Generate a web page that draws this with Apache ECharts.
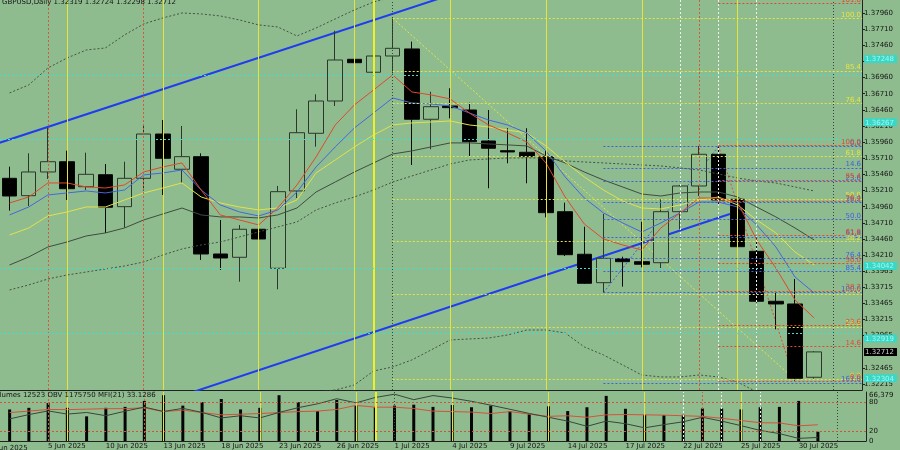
<!DOCTYPE html>
<html><head><meta charset="utf-8">
<script src="https://cdn.jsdelivr.net/npm/echarts@6/dist/echarts.min.js"></script>
<style>html,body{margin:0;padding:0;background:#8FBC8F;}#c{width:900px;height:450px;}</style>
</head><body><div id="c"></div>
<script>
const dates = ['3 Jun 2025','4 Jun 2025','5 Jun 2025','6 Jun 2025','9 Jun 2025','10 Jun 2025','11 Jun 2025','12 Jun 2025','13 Jun 2025','16 Jun 2025','17 Jun 2025','18 Jun 2025','19 Jun 2025','20 Jun 2025','23 Jun 2025','24 Jun 2025','25 Jun 2025','26 Jun 2025','27 Jun 2025','30 Jun 2025','1 Jul 2025','2 Jul 2025','3 Jul 2025','4 Jul 2025','7 Jul 2025','8 Jul 2025','9 Jul 2025','10 Jul 2025','11 Jul 2025','14 Jul 2025','15 Jul 2025','16 Jul 2025','17 Jul 2025','18 Jul 2025','21 Jul 2025','22 Jul 2025','23 Jul 2025','24 Jul 2025','25 Jul 2025','28 Jul 2025','29 Jul 2025','30 Jul 2025','31 Jul 2025'];
const open  = [1.35400,1.35131,1.35498,1.35657,1.35270,1.35456,1.34961,1.35400,1.36086,1.35540,1.35735,1.34228,1.34177,1.34611,1.34007,1.35204,1.36097,1.36597,1.37243,1.37042,1.37294,1.37403,1.36314,1.36520,1.36458,1.35978,1.35828,1.35803,1.35735,1.34883,1.34224,1.33784,1.34155,1.34109,1.34093,1.34883,1.35281,1.35772,1.35075,1.34270,1.33496,1.33454,1.32319];
const high  = [1.35580,1.35787,1.36179,1.35828,1.35797,1.35622,1.35657,1.36226,1.36303,1.36210,1.35787,1.34755,1.34677,1.35091,1.35281,1.36469,1.36701,1.37686,1.37511,1.37398,1.37878,1.37516,1.36741,1.36794,1.36571,1.36458,1.36175,1.36175,1.35839,1.35023,1.34651,1.34848,1.34186,1.34728,1.35080,1.35297,1.35901,1.35890,1.35115,1.34507,1.33629,1.33841,1.32724];
const low   = [1.34899,1.34971,1.35390,1.35064,1.35219,1.34553,1.34635,1.35208,1.35142,1.35332,1.34135,1.33980,1.33799,1.34378,1.33682,1.35095,1.35890,1.36520,1.36819,1.36726,1.37026,1.35606,1.35849,1.36329,1.35735,1.35246,1.35633,1.35323,1.34796,1.34197,1.33764,1.33629,1.33722,1.34022,1.34007,1.34611,1.35126,1.34987,1.34146,1.33474,1.33062,1.32266,1.32298];
const close = [1.35126,1.35498,1.35657,1.35239,1.35462,1.34951,1.35400,1.36086,1.35710,1.35735,1.34228,1.34166,1.34611,1.34460,1.35193,1.36106,1.36597,1.37232,1.37190,1.37294,1.37413,1.36314,1.36509,1.36494,1.35967,1.35865,1.35808,1.35735,1.34868,1.34217,1.33774,1.34161,1.34109,1.34069,1.34883,1.35281,1.35772,1.35064,1.34341,1.33496,1.33454,1.32303,1.32712];
const maRed    = [1.35018,1.35111,1.35328,1.35328,1.35266,1.35250,1.35297,1.35498,1.35576,1.35638,1.35219,1.34833,1.34755,1.34678,1.34940,1.35297,1.35731,1.36226,1.36536,1.36768,1.37001,1.36737,1.36691,1.36629,1.36412,1.36226,1.36102,1.35963,1.35638,1.35111,1.34693,1.34461,1.34368,1.34290,1.34631,1.34864,1.35095,1.35095,1.35033,1.34445,1.34011,1.33516,1.33237];
const maBlue   = [1.34833,1.34956,1.35142,1.35173,1.35204,1.35173,1.35219,1.35452,1.35483,1.35529,1.35219,1.34987,1.34879,1.34817,1.34910,1.35188,1.35576,1.35886,1.36179,1.36412,1.36644,1.36567,1.36551,1.36520,1.36412,1.36303,1.36226,1.36102,1.35824,1.35421,1.35095,1.34864,1.34709,1.34569,1.34709,1.34864,1.35033,1.35033,1.34956,1.34678,1.34337,1.33872,1.33625];
const maYellow = [1.34523,1.34631,1.34817,1.34879,1.34956,1.34956,1.35064,1.35173,1.35250,1.35328,1.35111,1.35018,1.34956,1.34910,1.34940,1.35064,1.35483,1.35684,1.35886,1.36071,1.36226,1.36257,1.36272,1.36288,1.36226,1.36195,1.36148,1.36102,1.35901,1.35653,1.35421,1.35219,1.35049,1.34940,1.34925,1.34987,1.35064,1.35111,1.34987,1.34755,1.34554,1.34259,1.34058];
const maGray   = [1.34058,1.34182,1.34337,1.34414,1.34507,1.34554,1.34631,1.34755,1.34848,1.34940,1.34833,1.34802,1.34802,1.34786,1.34833,1.34940,1.35188,1.35343,1.35498,1.35638,1.35777,1.35824,1.35886,1.35948,1.35948,1.35932,1.35917,1.35901,1.35746,1.35638,1.35498,1.35374,1.35266,1.35157,1.35126,1.35173,1.35188,1.35188,1.35111,1.34956,1.34802,1.34631,1.34445];
const bbMid    = [1.33671,1.33749,1.33841,1.33903,1.33949,1.33996,1.34042,1.34104,1.34213,1.34306,1.34368,1.34414,1.34492,1.34569,1.34647,1.34724,1.34910,1.35018,1.35111,1.35219,1.35343,1.35436,1.35529,1.35622,1.35684,1.35700,1.35715,1.35715,1.35715,1.35669,1.35653,1.35638,1.35622,1.35607,1.35591,1.35560,1.35529,1.35467,1.35405,1.35359,1.35328,1.35266,1.35204];
const bbUp     = [1.36722,1.36846,1.37108,1.37263,1.37387,1.37418,1.37620,1.37790,1.37883,1.37960,1.37945,1.37914,1.37852,1.37775,1.37744,1.37604,1.37728,1.37868,1.38007,1.38130,1.38208,1.38285,1.38316,1.38347,1.38455,1.38471,1.38455,1.38378,1.38378,1.38332,1.38517,1.38610,1.38734,1.38858,1.38858,1.38796,1.38703,1.38610,1.38564,1.38626,1.38688,1.38750,1.38750];
const bbLow    = [1.30621,1.30652,1.30574,1.30543,1.30512,1.30574,1.30466,1.30419,1.30543,1.30652,1.30790,1.30914,1.31131,1.31364,1.31550,1.31843,1.32091,1.32122,1.32200,1.32416,1.32479,1.32587,1.32742,1.32897,1.32912,1.32927,1.32974,1.33051,1.33051,1.33005,1.32789,1.32665,1.32510,1.32355,1.32324,1.32324,1.32355,1.32324,1.32246,1.32091,1.31967,1.31782,1.31658];
const volumes = [42760,44940,51360,44940,33380,44940,46220,54310,62020,47890,52640,56880,42760,44940,62020,52640,40570,55600,48280,45710,47890,49180,46220,48790,45710,47890,40570,36340,46990,40570,45710,61120,43660,35440,35050,35440,44040,44040,42760,45710,46220,54310,12523];
const mfi = [58,61,64.4,64,65,66,66,67.7,60,63,58,53.4,54.7,56,58,60,61,64.4,72.7,69,69,66.3,61,60,59,56,60,54.7,50.3,51.5,48.4,53.4,54,53.4,52.8,51.5,50.3,46.4,41.8,37.3,36.8,31,33.13];
const obv = [1388050,1437550,1479350,1443050,1461750,1424350,1476050,1523350,1472750,1509050,1461750,1399050,1424350,1399050,1461750,1516750,1560750,1619050,1571750,1633350,1670750,1608050,1655350,1626750,1589350,1545350,1498050,1450750,1406750,1362750,1303350,1362750,1333050,1285750,1322050,1355050,1406750,1362750,1311050,1256050,1219750,1164750,1175750];
const priceTicks = [1.37960,1.37710,1.37460,1.37210,1.36960,1.36710,1.36460,1.36210,1.35960,1.35710,1.35460,1.35210,1.34960,1.34710,1.34460,1.34210,1.33965,1.33715,1.33465,1.33215,1.32965,1.32465,1.32215];
const cyanLevels = [1.37248,1.36267,1.34042,1.32919,1.32304];
const lastPrice = 1.32712;
const fibYellowPct = ['100.0','85.4','76.4','61.8','50.0','38.2','23.6','14.6','0.0'];
const fibYellowPrice = [1.37878,1.37061,1.36557,1.35740,1.35080,1.34420,1.33603,1.33099,1.32282];
const fibYellowStart = 20;
const fibBluePct = ['0.0','14.6','23.6','38.2','50.0','61.8','76.4','85.4','100.0','161.8'];
const fibBluePrice = [1.35892,1.35560,1.35355,1.35025,1.34760,1.34493,1.34163,1.33958,1.33629,1.32232];
const fibBlueStart = 31;
const fibRedPct = ['161.8','100.0','85.4','76.4','61.8','50.0','38.2','23.6','14.6','0.0'];
const fibRedPrice = [1.38110,1.35906,1.35374,1.35045,1.34515,1.34084,1.33654,1.33122,1.32795,1.32263];
const fibRedStart = 37;
const fibDiagYellow = [[20,1.37878],[41,1.32282]];
const fibDiagBlue = [[31,1.33629],[37,1.35892]];
const fibDiagRed = [[37,1.35906],[41,1.32263]];
const trendUpper = [[-1,1.35904],[23,1.38239]];
const trendLower = [[8,1.31936],[37.6,1.34848]];
const vYellow = [3,8,13,18,23,28,33,38];
const vYellowThick = [19];
const vRedDot = [2,7,36];
const vWhiteDot = [35,37,39];
const vGrayDot = [20,43];

const FONT = 'DejaVu Sans';
const TXT = '#141414';
const DOT = [2,2];
const cats = dates.concat(['','']);
const candles = dates.map((_,i)=>[open[i],close[i],low[i],high[i]]);
const pts = arr => arr.map((v,i)=>[i,v]);
const near = (a,b)=>Math.abs(a-b)<1e-7;

function vLines(list,color,type,width){return list.map(k=>({xAxis:k,lineStyle:{color,type,width}}));}
const vData = [].concat(
  vLines(vYellow,'#e4e43a','solid',1),
  vLines(vYellowThick,'#f0f028','solid',2),
  vLines(vRedDot,'#d8583a',DOT,1),
  vLines(vWhiteDot,'#eef2ee',DOT,1),
  vLines(vGrayDot,'#3a453a',[1,2],1));

function line(data,color,type,width,z,xi,yi){
  return {type:'line',xAxisIndex:xi===undefined?1:xi,yAxisIndex:yi===undefined?0:yi,data,showSymbol:false,symbol:'none',silent:true,z,clip:true,lineStyle:{color,type,width}};
}
function fibSeries(pcts,prices,start,color){
  const ls = {color,type:DOT,width:1};
  return {type:'line',xAxisIndex:1,yAxisIndex:0,data:[],z:2,silent:true,
    markLine:{silent:true,symbol:['none','none'],animation:false,
      lineStyle:ls,
      label:{show:true,position:'insideEndTop',formatter:'{b}',color,fontSize:7,fontFamily:FONT,distance:[1,0]},
      emphasis:{disabled:true},
      data:prices.map((p,i)=>[{coord:[start,p],name:pcts[i],lineStyle:ls},{coord:[44.5,p]}])}};
}
const axisLineStyle = {show:true,onZero:false,lineStyle:{color:'#222',width:1}};

const chart = echarts.init(document.getElementById('c'));
chart.setOption({
  animation:false,
  backgroundColor:'#8FBC8F',
  grid:[{left:0,top:0,width:866,height:390},{left:0,top:392,width:866,height:51}],
  xAxis:[
    {type:'category',gridIndex:0,data:cats,boundaryGap:true,axisLine:axisLineStyle,axisTick:{show:false},axisLabel:{show:false},splitLine:{show:false}},
    {type:'value',gridIndex:0,min:-0.5,max:44.5,show:false,axisLine:{onZero:false}},
    {type:'category',gridIndex:1,data:cats,boundaryGap:true,axisLine:axisLineStyle,axisTick:{show:false},splitLine:{show:false},
      axisLabel:{interval:(i)=>i%3===2&&i<dates.length,align:'left',margin:2,fontSize:7,fontFamily:FONT,color:TXT}},
    {type:'value',gridIndex:1,min:-0.5,max:44.5,show:false,axisLine:{onZero:false}}
  ],
  yAxis:[
    {type:'value',gridIndex:0,position:'right',min:1.32122,max:1.38161,splitLine:{show:false},
      axisLine:axisLineStyle,
      axisTick:{show:true,length:3,customValues:priceTicks,lineStyle:{color:'#222'}},
      axisLabel:{customValues:priceTicks.concat(cyanLevels,[lastPrice]),margin:2,fontSize:7,fontFamily:FONT,color:TXT,
        formatter:v=>{const s=v.toFixed(5); if(cyanLevels.some(c=>near(c,v)))return '{c|'+s+'}'; if(near(v,lastPrice))return '{k|'+s+'}'; return s;},
        rich:{c:{fontSize:7,fontFamily:FONT,backgroundColor:'#38d8c8',color:'#a6f4ec',padding:[1,3,0,1],lineHeight:7},
              k:{fontSize:7,fontFamily:FONT,backgroundColor:'#000',color:'#d0d0d0',padding:[1,3,0,1],lineHeight:7}}}},
    {type:'value',gridIndex:1,position:'right',min:0,max:100,splitLine:{show:false},
      axisLine:axisLineStyle,axisTick:{show:false},
      axisLabel:{customValues:[0,20,80],margin:3,fontSize:7,fontFamily:FONT,color:TXT}},
    {type:'value',gridIndex:1,position:'right',min:0,max:66379,splitLine:{show:false},axisLine:{show:false,onZero:false},axisTick:{show:false},
      axisLabel:{customValues:[66379],margin:3,fontSize:7,fontFamily:FONT,color:TXT,verticalAlign:'top'}},
    {type:'value',gridIndex:1,min:1135050,max:1696050,show:false,axisLine:{onZero:false}}
  ],
  graphic:[
    {type:'text',x:2,y:-1,z:100,style:{text:'GBPUSD,Daily 1.32319 1.32724 1.32298 1.32712',font:'7px "DejaVu Sans"',fill:TXT}},
    {type:'text',x:-9,y:392,z:100,style:{text:'Volumes 12523 OBV 1175750 MFI(21) 33.1286',font:'7px "DejaVu Sans"',fill:TXT}},
    {type:'text',x:-10,y:445,z:100,style:{text:'2 Jun 2025',font:'7px "DejaVu Sans"',fill:TXT}}
  ],
  series:[
    {type:'line',xAxisIndex:1,yAxisIndex:0,data:[],z:1,silent:true,
      markLine:{silent:true,symbol:['none','none'],label:{show:false},animation:false,data:vData}},
    {type:'line',xAxisIndex:1,yAxisIndex:0,data:[],z:1,silent:true,
      markLine:{silent:true,symbol:['none','none'],label:{show:false},animation:false,lineStyle:{color:'#44dccb',type:DOT,width:1},
        data:cyanLevels.map(v=>({yAxis:v,lineStyle:{color:'#44dccb',type:DOT,width:1}}))}},
    fibSeries(fibYellowPct,fibYellowPrice,fibYellowStart,'#e6e640'),
    fibSeries(fibBluePct,fibBluePrice,fibBlueStart,'#3f5fe0'),
    fibSeries(fibRedPct,fibRedPrice,fibRedStart,'#e04a30'),
    line(fibDiagYellow,'#e6e640',DOT,1,2),
    line(fibDiagBlue,'#3f5fe0',DOT,1,2),
    line(fibDiagRed,'#e04a30',DOT,1,2),
    line(trendUpper,'#1e3cf0','solid',2,2),
    line(trendLower,'#1e3cf0','solid',2,2),
    {type:'candlestick',xAxisIndex:0,yAxisIndex:0,data:candles,barWidth:15,z:3,silent:true,
      itemStyle:{color:'#8FBC8F',color0:'#000000',borderColor:'#2c372c',borderColor0:'#0a0a0a',borderWidth:1}},
    line(pts(bbUp),'#445244',DOT,1,4),
    line(pts(bbMid),'#445244',DOT,1,4),
    line(pts(bbLow),'#445244',DOT,1,4),
    line(pts(maGray),'#3e4c3e','solid',1,4),
    line(pts(maYellow),'#e2e24a','solid',1,4),
    line(pts(maBlue),'#4466dd','solid',1,4),
    line(pts(maRed),'#e0482c','solid',1,4),
    {type:'line',xAxisIndex:3,yAxisIndex:1,data:[],z:1,silent:true,
      markLine:{silent:true,symbol:['none','none'],label:{show:false},animation:false,data:vData}},
    {type:'bar',xAxisIndex:2,yAxisIndex:2,data:volumes,barWidth:3,z:3,silent:true,itemStyle:{color:'#050505'}},
    {type:'line',xAxisIndex:3,yAxisIndex:1,data:pts(mfi),showSymbol:false,symbol:'none',silent:true,z:4,lineStyle:{color:'#d8503a',width:1},
      markLine:{silent:true,symbol:['none','none'],label:{show:false},animation:false,lineStyle:{color:'#d8503a',type:DOT,width:1},
        data:[{yAxis:80,lineStyle:{color:'#d8503a',type:DOT,width:1}},{yAxis:20,lineStyle:{color:'#d8503a',type:DOT,width:1}}]}},
    line(pts(obv),'#3a463a','solid',1,4,3,3)
  ]
});
</script></body></html>
